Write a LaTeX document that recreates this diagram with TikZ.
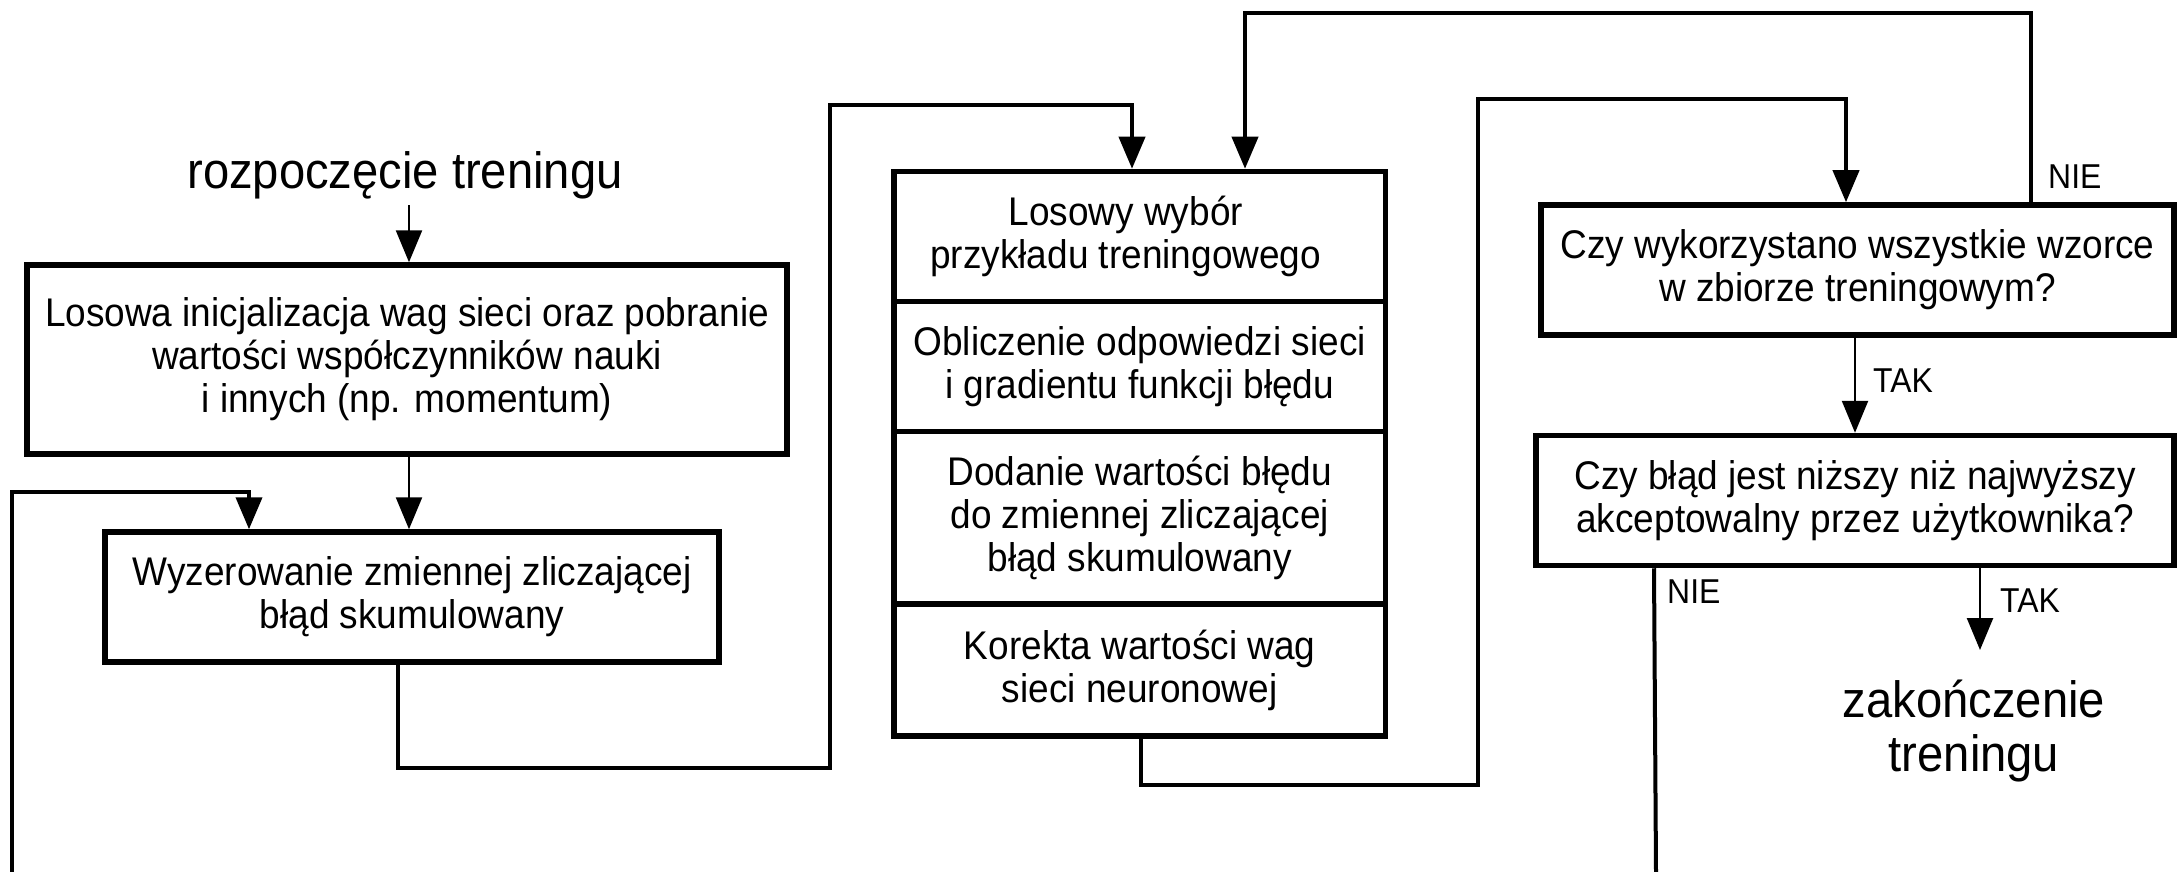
\documentclass[tikz,border=0pt]{standalone}
\usepackage{fontspec}
\setmainfont{Liberation Sans}[FakeStretch=0.925]
\usetikzlibrary{arrows.meta}
\newcommand\bxfont{\fontsize{40}{43}\selectfont}
\newcommand\ttlfont{\fontsize{51}{54}\selectfont}
\newcommand\lblfont{\fontsize{34.5}{38}\selectfont}

\begin{document}
\begin{tikzpicture}[x=1pt,y=-1pt,
  blk/.style={draw, line width=5.5pt, inner sep=0pt, align=center, font=\bxfont},
  flow/.style={line width=4pt},
  fine/.style={line width=2.5pt},
  headed/.style={-{Triangle[length=32pt,width=26pt]}},
  lbl/.style={font=\lblfont, inner sep=0pt},
  ttl/.style={font=\ttlfont, inner sep=0pt, align=center}]

\useasboundingbox (0,0) rectangle (2177,872);

% start and end texts
\node[ttl, anchor=base] (start) at (405,188) {rozpoczęcie treningu};
\node[ttl] (end) at (1974,731) {zakończenie\\treningu};

% process blocks
\node[blk, minimum width=760pt, minimum height=189pt] (A) at (407,359.5)
  {Losowa inicjalizacja wag sieci oraz pobranie\\wartości współczynników nauki\\i innych (np. momentum)};
\node[blk, minimum width=614pt, minimum height=130pt] (B) at (412,597)
  {Wyzerowanie zmiennej zliczającej\\błąd skumulowany};

% stacked training step
\node[blk, minimum width=491.5pt, minimum height=130.2pt] (C1) at (1139.75,236.6)
  {Losowy wybór\hspace*{28pt}\\przykładu treningowego\hspace*{28pt}};
\node[blk, minimum width=491.5pt, minimum height=130pt] (C2) at (1139.75,366.7)
  {Obliczenie odpowiedzi sieci\\i gradientu funkcji błędu};
\node[blk, minimum width=491.5pt, minimum height=172.3pt] (C3) at (1139.75,517.85)
  {Dodanie wartości błędu\\do zmiennej zliczającej\\błąd skumulowany};
\node[blk, minimum width=491.5pt, minimum height=132pt] (C4) at (1139.75,670)
  {Korekta wartości wag\\sieci neuronowej};

% decisions
\node[blk, minimum width=633pt, minimum height=130pt] (D) at (1857.5,270)
  {Czy wykorzystano wszystkie wzorce\\w zbiorze treningowym?};
\node[blk, minimum width=638pt, minimum height=130pt] (E) at (1855,500.5)
  {Czy błąd jest niższy niż najwyższy\\akceptowalny przez użytkownika?};

% branch labels
\node[lbl, anchor=base west] (nieD) at (2048,188) {NIE};
\node[lbl, anchor=base west] (takD) at (1873,392) {TAK};
\node[lbl, anchor=base west] (nieE) at (1667,603) {NIE};
\node[lbl, anchor=base west] (takE) at (2000,612) {TAK};

% routing points
\coordinate (s0) at (409,205);
\coordinate (ab) at (409,0);
\coordinate (loopIn) at (12,872);
\coordinate (loopB) at (249,492);
\coordinate (outB) at (398,768);
\coordinate (inC1) at (1132,105);
\coordinate (inC2) at (1245,13);
\coordinate (outC) at (1140.5,785);
\coordinate (inD) at (1846,99);
\coordinate (backD) at (2031,13);
\coordinate (outE) at (1654,0);
\coordinate (loopOut) at (1656,872);
\coordinate (stopE) at (1980,650);

% connectors
\draw[fine, headed] (s0) -- (s0 |- A.north);
\draw[fine, headed] (ab |- A.south) -- (ab |- B.north);
\draw[flow, headed] (loopIn) -- (12,492) -- (loopB) -- (loopB |- B.north);
\draw[flow, headed] (outB |- B.south) -- (outB) -- (830,768) -- (830,105) -- (inC1) -- (inC1 |- C1.north);
\draw[flow, headed] (outC |- C4.south) -- (outC) -- (1478,785) -- (1478,99) -- (inD) -- (inD |- D.north);
\draw[flow, headed] (backD |- D.north) -- (backD) -- (inC2) -- (inC2 |- C1.north);
\draw[fine, headed] (E.north |- D.south) -- (E.north);
\draw[flow] (outE |- E.south) -- (loopOut);
\draw[fine, headed] (stopE |- E.south) -- (stopE);

\end{tikzpicture}
\end{document}
